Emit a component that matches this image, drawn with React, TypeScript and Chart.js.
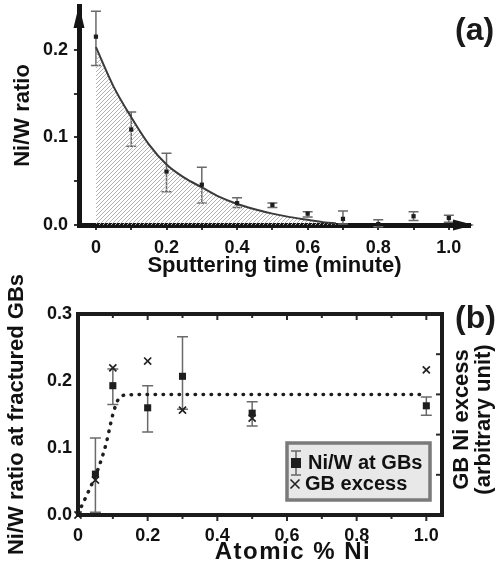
import React, { useEffect, useRef } from 'react';
import { Chart, registerables } from 'chart.js';
Chart.register(...registerables);

const FONT = "'Liberation Sans', Arial, Helvetica, sans-serif";

// ---------- Panel (a): Ni/W ratio vs sputtering time ----------
const timeA = [0, 0.1, 0.2, 0.3, 0.4, 0.5, 0.6, 0.7, 0.8, 0.9, 1.0];
const ratioA = [0.215, 0.109, 0.061, 0.046, 0.025, 0.023, 0.013, 0.007, 0.001, 0.01, 0.008];
const ratioALow = [0.182, 0.09, 0.038, 0.025, 0.02, 0.02, 0.009, 0.001, -0.002, 0.005, 0.003];
const ratioAHigh = [0.244, 0.129, 0.082, 0.066, 0.031, 0.025, 0.015, 0.016, 0.006, 0.015, 0.011];
const fitTimeA = [0, 0.05, 0.1, 0.15, 0.2, 0.25, 0.3, 0.35, 0.4, 0.45, 0.5, 0.55, 0.6, 0.65, 0.68];
const fitRatioA = [0.203, 0.158, 0.123, 0.092, 0.069, 0.054, 0.043, 0.032, 0.024, 0.018, 0.013, 0.009, 0.006, 0.003, 0.002];
const xTicksA = [0, 0.1, 0.2, 0.3, 0.4, 0.5, 0.6, 0.7, 0.8, 0.9, 1.0];
const xLabelsA = ['0', '', '0.2', '', '0.4', '', '0.6', '', '0.8', '', '1.0'];
const yTicksA = [0, 0.05, 0.1, 0.15, 0.2];
const yLabelsA = ['0.0', '', '0.1', '', '0.2'];

// ---------- Panel (b): Ni/W ratio at GBs vs atomic % Ni ----------
const atomicNi = [0.05, 0.1, 0.2, 0.3, 0.5, 1.0];
const ratioB = [0.061, 0.193, 0.16, 0.207, 0.152, 0.163];
const ratioBLow = [0.004, 0.165, 0.124, 0.158, 0.133, 0.149];
const ratioBHigh = [0.115, 0.218, 0.193, 0.266, 0.169, 0.176];
const excessNi = [0, 0.05, 0.1, 0.2, 0.3, 0.5, 1.0];
const excessB = [0, 0.87, 3.66, 3.83, 2.61, 2.41, 3.61];
const guideNi = [0, 0.03, 0.055, 0.08, 0.1, 0.115, 0.135, 0.2, 0.6, 0.985];
const guideRatio = [0.002, 0.035, 0.065, 0.105, 0.15, 0.172, 0.179, 0.18, 0.18, 0.18];
const xTicksB = [0, 0.1, 0.2, 0.3, 0.4, 0.5, 0.6, 0.7, 0.8, 0.9, 1.0];
const xLabelsB = ['0', '', '0.2', '', '0.4', '', '0.6', '', '0.8', '', '1.0'];
const yTicksB = [0, 0.1, 0.2, 0.3];
const yLabelsB = ['0.0', '0.1', '0.2', '0.3'];
const y2TicksB = [1, 2, 3, 4];

const errorBarPlugin = {
  id: 'errorBars',
  beforeDatasetsDraw(chart: any) {
    const { ctx } = chart;
    chart.data.datasets.forEach((ds: any, di: number) => {
      if (!ds.errLow) return;
      const meta = chart.getDatasetMeta(di);
      const xs = chart.scales[meta.xAxisID];
      const ys = chart.scales[meta.yAxisID];
      ctx.save();
      ctx.strokeStyle = ds.errColor;
      ctx.lineWidth = ds.errWidth;
      const c = ds.errCap / 2;
      ds.data.forEach((p: any, i: number) => {
        const x = xs.getPixelForValue(p.x);
        const y1 = ys.getPixelForValue(ds.errLow[i]);
        const y2 = ys.getPixelForValue(ds.errHigh[i]);
        ctx.beginPath();
        ctx.moveTo(x, y1); ctx.lineTo(x, y2);
        ctx.moveTo(x - c, y1); ctx.lineTo(x + c, y1);
        ctx.moveTo(x - c, y2); ctx.lineTo(x + c, y2);
        ctx.stroke();
      });
      ctx.restore();
    });
  },
};

const arrowPlugin = {
  id: 'arrowsA',
  afterDraw(chart: any) {
    const { ctx, chartArea: a } = chart;
    ctx.save();
    ctx.fillStyle = '#151515';
    ctx.beginPath();
    ctx.moveTo(a.left, a.top - 1);
    ctx.lineTo(a.left - 5.5, a.top + 22);
    ctx.lineTo(a.left + 5.5, a.top + 22);
    ctx.closePath();
    ctx.fill();
    ctx.beginPath();
    ctx.moveTo(a.right + 4, a.bottom);
    ctx.lineTo(a.right - 17, a.bottom - 5.5);
    ctx.lineTo(a.right - 17, a.bottom + 5.5);
    ctx.closePath();
    ctx.fill();
    ctx.restore();
  },
};

const frameBPlugin = {
  id: 'frameB',
  afterDraw(chart: any) {
    const { ctx, chartArea: a, scales } = chart;
    ctx.save();
    ctx.strokeStyle = '#2a2a2a';
    ctx.lineWidth = 2;
    xTicksB.forEach((v) => {
      if (v === 0) return;
      const x = scales.x.getPixelForValue(v);
      const len = Math.round(v * 10) % 2 === 0 ? 6 : 4;
      ctx.beginPath();
      ctx.moveTo(x, a.top); ctx.lineTo(x, a.top + len);
      ctx.moveTo(x, a.bottom); ctx.lineTo(x, a.bottom + len);
      ctx.stroke();
    });
    y2TicksB.forEach((v) => {
      const y = scales.y2.getPixelForValue(v);
      ctx.beginPath();
      ctx.moveTo(a.right, y); ctx.lineTo(a.right - 6, y);
      ctx.stroke();
    });
    ctx.lineWidth = 4;
    ctx.strokeStyle = '#1c1c1c';
    ctx.strokeRect(a.left, a.top, a.right - a.left, a.bottom - a.top);

    // bottom axis title
    ctx.save();
    ctx.fillStyle = '#111';
    ctx.font = `bold 24px ${FONT}`;
    (ctx as any).letterSpacing = '1.5px';
    ctx.textAlign = 'center';
    ctx.textBaseline = 'middle';
    ctx.fillText('Atomic % Ni', a.left + 215, a.bottom + 37);
    ctx.restore();

    // right axis title
    ctx.save();
    ctx.translate(a.right + 20, (a.top + a.bottom) / 2 + 5);
    ctx.rotate(-Math.PI / 2);
    ctx.fillStyle = '#111';
    ctx.font = `bold 22px ${FONT}`;
    ctx.textAlign = 'center';
    ctx.textBaseline = 'middle';
    ctx.fillText('GB Ni excess', 0, 0);
    ctx.fillText('(arbitrary unit)', 0, 22);
    ctx.restore();

    // legend
    const R = a.right - 12, B = a.bottom - 15;
    const L = R - 143, T = B - 57;
    ctx.fillStyle = '#e8e8e8';
    ctx.fillRect(L, T, R - L, B - T);
    ctx.lineWidth = 3.5;
    ctx.strokeStyle = '#7a7a7a';
    ctx.strokeRect(L, T, R - L, B - T);
    const m1x = L + 9, m1y = T + 20;
    ctx.strokeStyle = '#666';
    ctx.lineWidth = 1.5;
    ctx.beginPath();
    ctx.moveTo(m1x, m1y - 12); ctx.lineTo(m1x, m1y + 12);
    ctx.moveTo(m1x - 5, m1y - 12); ctx.lineTo(m1x + 5, m1y - 12);
    ctx.moveTo(m1x - 5, m1y + 12); ctx.lineTo(m1x + 5, m1y + 12);
    ctx.stroke();
    ctx.fillStyle = '#1e1e1e';
    ctx.fillRect(m1x - 5, m1y - 5, 10, 10);
    const m2x = L + 8, m2y = T + 41;
    ctx.strokeStyle = '#222';
    ctx.lineWidth = 1.6;
    ctx.beginPath();
    ctx.moveTo(m2x - 4.5, m2y - 4.5); ctx.lineTo(m2x + 4.5, m2y + 4.5);
    ctx.moveTo(m2x - 4.5, m2y + 4.5); ctx.lineTo(m2x + 4.5, m2y - 4.5);
    ctx.stroke();
    ctx.fillStyle = '#111';
    ctx.font = `bold 20px ${FONT}`;
    ctx.textAlign = 'left';
    ctx.textBaseline = 'middle';
    ctx.fillText('Ni/W at GBs', L + 21, m1y);
    ctx.fillText('GB excess', L + 18, m2y);
    ctx.restore();
  },
};

function makeHatch(): CanvasPattern | string {
  const pc = document.createElement('canvas');
  pc.width = 4; pc.height = 4;
  const c = pc.getContext('2d');
  if (!c) return '#ccc';
  c.strokeStyle = '#b4b4b4';
  c.lineWidth = 1;
  c.beginPath();
  c.moveTo(-1, 5); c.lineTo(5, -1);
  c.moveTo(-1, 1); c.lineTo(1, -1);
  c.moveTo(3, 5); c.lineTo(5, 3);
  c.stroke();
  const p = c.createPattern(pc, 'repeat');
  return p || '#ccc';
}

const noPadY = (w: number) => (s: any) => { s.width = w; s.paddingTop = 0; s.paddingBottom = 0; };
const noPadX = (h: number) => (s: any) => { s.height = h; s.paddingLeft = 0; s.paddingRight = 0; };

export default function App() {
  const refA = useRef<HTMLCanvasElement>(null);
  const refB = useRef<HTMLCanvasElement>(null);

  useEffect(() => {
    Chart.defaults.font.family = FONT;
    const tickFont = { size: 18, weight: 'bold' as const };
    const titleFont = { size: 22, weight: 'bold' as const };

    const chartA = new Chart(refA.current as HTMLCanvasElement, {
      type: 'line',
      data: {
        datasets: [
          {
            label: 'Ni/W ratio',
            data: timeA.map((t, i) => ({ x: t, y: ratioA[i] })),
            showLine: false,
            pointStyle: 'rect',
            pointRadius: 3,
            backgroundColor: '#1e1e1e',
            borderColor: '#1e1e1e',
            borderWidth: 0,
            clip: false,
            errLow: ratioALow,
            errHigh: ratioAHigh,
            errColor: '#6a6a6a',
            errWidth: 1.5,
            errCap: 10,
          } as any,
          {
            label: 'fit',
            data: fitTimeA.map((t, i) => ({ x: t, y: fitRatioA[i] })),
            borderColor: '#3a3a3a',
            borderWidth: 2,
            pointRadius: 0,
            cubicInterpolationMode: 'monotone',
            fill: 'origin',
            backgroundColor: makeHatch() as any,
          },
        ],
      },
      options: {
        animation: false,
        responsive: false,
        layout: { padding: { top: 6, right: 33, left: 0, bottom: 0 } },
        plugins: { legend: { display: false }, tooltip: { enabled: false } },
        scales: {
          x: {
            type: 'linear',
            min: -0.048,
            max: 1.06,
            afterBuildTicks: (s: any) => { s.ticks = xTicksA.map((v) => ({ value: v })); },
            afterFit: noPadX(55),
            grid: { display: true, drawOnChartArea: false, drawTicks: true, tickLength: 5, color: '#333', lineWidth: 2 },
            border: { display: true, width: 5, color: '#151515' },
            ticks: { autoSkip: false, maxRotation: 0, padding: 7, color: '#111', font: tickFont, callback: (_v: any, i: number) => xLabelsA[i] },
            title: { display: true, text: 'Sputtering time (minute)', color: '#111', font: titleFont, padding: { top: 0, bottom: 1 } },
          },
          y: {
            type: 'linear',
            min: 0,
            max: 0.25,
            afterBuildTicks: (s: any) => { s.ticks = yTicksA.map((v) => ({ value: v })); },
            afterFit: noPadY(79),
            grid: { display: true, drawOnChartArea: false, drawTicks: true, tickLength: 5, color: '#333', lineWidth: 2 },
            border: { display: true, width: 5, color: '#151515' },
            ticks: { autoSkip: false, padding: 6, color: '#111', font: tickFont, callback: (_v: any, i: number) => yLabelsA[i] },
            title: { display: true, text: 'Ni/W ratio', color: '#111', font: titleFont, padding: { top: 10, bottom: 0 } },
          },
        },
      },
      plugins: [errorBarPlugin, arrowPlugin],
    });

    const chartB = new Chart(refB.current as HTMLCanvasElement, {
      type: 'line',
      data: {
        datasets: [
          {
            label: 'Ni/W at GBs',
            data: atomicNi.map((t, i) => ({ x: t, y: ratioB[i] })),
            yAxisID: 'y',
            showLine: false,
            pointStyle: 'rect',
            pointRadius: 5,
            backgroundColor: '#1e1e1e',
            borderColor: '#1e1e1e',
            borderWidth: 0,
            clip: false,
            errLow: ratioBLow,
            errHigh: ratioBHigh,
            errColor: '#6a6a6a',
            errWidth: 1.5,
            errCap: 11,
          } as any,
          {
            label: 'GB excess',
            data: excessNi.map((t, i) => ({ x: t, y: excessB[i] })),
            yAxisID: 'y2',
            showLine: false,
            pointStyle: 'crossRot',
            pointRadius: 5,
            borderColor: '#222',
            backgroundColor: '#222',
            borderWidth: 1.7,
            clip: false,
          } as any,
          {
            label: 'guide',
            data: guideNi.map((t, i) => ({ x: t, y: guideRatio[i] })),
            yAxisID: 'y',
            borderColor: '#1e1e1e',
            borderWidth: 3.5,
            borderDash: [0.5, 7.5],
            borderCapStyle: 'round',
            pointRadius: 0,
            cubicInterpolationMode: 'monotone',
            fill: false,
          },
        ],
      },
      options: {
        animation: false,
        responsive: false,
        layout: { padding: { top: 52, right: 0, left: 0, bottom: 0 } },
        plugins: { legend: { display: false }, tooltip: { enabled: false } },
        scales: {
          x: {
            type: 'linear',
            min: 0,
            max: 1.045,
            afterBuildTicks: (s: any) => { s.ticks = xTicksB.map((v) => ({ value: v })); },
            afterFit: noPadX(54),
            grid: { display: false, drawTicks: false },
            border: { display: false },
            ticks: { autoSkip: false, maxRotation: 0, padding: 10, color: '#111', font: tickFont, callback: (_v: any, i: number) => xLabelsB[i] },
            title: { display: false },
          },
          y: {
            type: 'linear',
            position: 'left',
            min: 0,
            max: 0.3,
            afterBuildTicks: (s: any) => { s.ticks = yTicksB.map((v) => ({ value: v })); },
            afterFit: noPadY(78),
            grid: { display: false, drawTicks: false },
            border: { display: false },
            ticks: { autoSkip: false, padding: 6, color: '#111', font: tickFont, callback: (_v: any, i: number) => yLabelsB[i] },
            title: { display: true, text: 'Ni/W ratio at fractured GBs', color: '#111', font: titleFont, padding: { top: 4, bottom: 0 } },
          },
          y2: {
            type: 'linear',
            position: 'right',
            min: 0,
            max: 5,
            afterBuildTicks: (s: any) => { s.ticks = y2TicksB.map((v) => ({ value: v })); },
            afterFit: noPadY(61),
            grid: { display: false, drawTicks: false },
            border: { display: false },
            ticks: { display: false },
          },
        },
      },
      plugins: [errorBarPlugin, frameBPlugin],
    });

    return () => {
      chartA.destroy();
      chartB.destroy();
    };
  }, []);

  const labelStyle: React.CSSProperties = {
    position: 'absolute',
    fontFamily: FONT,
    fontSize: 32,
    fontWeight: 'bold',
    color: '#1a1a1a',
    lineHeight: '34px',
    margin: 0,
  };

  return (
    <div style={{ position: 'fixed', left: 0, top: 0, width: 503, height: 569, background: '#fff', overflow: 'hidden' }}>
      <canvas ref={refA} width={503} height={280} style={{ position: 'absolute', left: 0, top: 0, width: 503, height: 280 }} />
      <canvas ref={refB} width={503} height={307} style={{ position: 'absolute', left: 0, top: 262, width: 503, height: 307 }} />
      <div style={{ ...labelStyle, left: 455, top: 12 }}>(a)</div>
      <div style={{ ...labelStyle, left: 455, top: 300 }}>(b)</div>
    </div>
  );
}
